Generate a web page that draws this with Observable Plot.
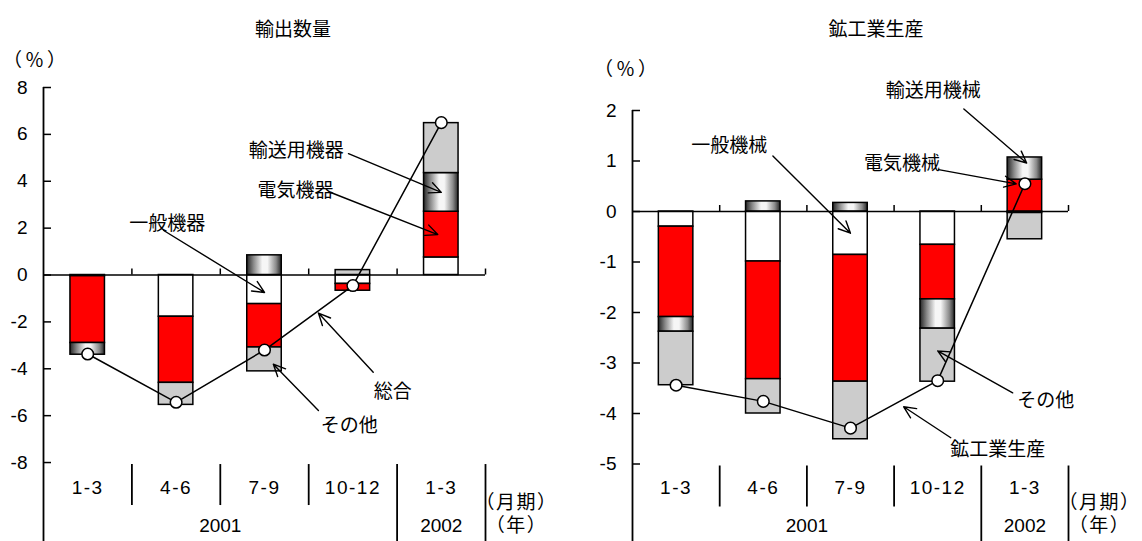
<!DOCTYPE html>
<html>
<head>
<meta charset="utf-8">
<script src="https://cdn.jsdelivr.net/npm/d3@7"></script>
<script src="https://cdn.jsdelivr.net/npm/@observablehq/plot@0.6"></script>
<style>
  html, body { margin: 0; padding: 0; background: #fff; }
  #page { position: relative; width: 1142px; height: 541px; overflow: hidden;
          font-family: "Liberation Sans", "Noto Sans CJK JP", sans-serif; color: #000; }
  .lbl { position: absolute; font-size: 19px; white-space: nowrap; transform: translate(-50%, -50%);
         font-family: "Liberation Sans", "Noto Sans CJK JP", sans-serif; }
  .unit { letter-spacing: 3px; }
  .chart { position: absolute; }
</style>
</head>
<body>
<div id="page"></div>
<script>
// Quarters (month periods) and the years they belong to
const periods = ["1-3", "4-6", "7-9", "10-12", "1-3"];
const years = [{label: "2001", from: 0, to: 4}, {label: "2002", from: 4, to: 5}];

// 輸出数量: contribution to % change by product group
const exportSeries = ["一般機器", "電気機器", "輸送用機器", "その他"];
const exportGeneral   = [-0.05, -1.78, -1.24, -0.38, 0.75];
const exportElectric  = [-2.85, -2.82, -1.85, -0.29, 1.95];
const exportTransport = [-0.50,  0.00,  0.84,  0.00, 1.65];
const exportOther     = [ 0.00, -0.94, -1.02,  0.21, 2.13];
const exportTotal     = [-3.37, -5.43, -3.20, -0.45, 6.50];
const exportTicks = [8, 6, 4, 2, 0, -2, -4, -6, -8];

// 鉱工業生産: contribution to % change by industry
const prodSeries = ["一般機械", "電気機械", "輸送用機械", "その他"];
const prodGeneral   = [-0.30, -0.99, -0.86, -0.66, -0.03];
const prodElectric  = [-1.79, -2.33, -2.51, -1.08,  0.63];
const prodTransport = [-0.29,  0.20,  0.17, -0.58,  0.44];
const prodOther     = [-1.06, -0.68, -1.14, -1.05, -0.52];
const prodTotal     = [-3.44, -3.76, -4.29, -3.35,  0.55];
const prodTicks = [2, 1, 0, -1, -2, -3, -4, -5];

const FONT = '"Liberation Sans", "Noto Sans CJK JP", sans-serif';
const page = document.getElementById("page");

function label(text, x, y, cls) {
  const d = document.createElement("div");
  d.className = "lbl" + (cls ? " " + cls : "");
  d.textContent = text;
  d.style.left = x + "px";
  d.style.top = y + "px";
  page.appendChild(d);
}

function drawChart(cfg) {
  const {values, series, total, ticks, unitPx, left, top, width, height,
         marginTop, marginLeft, marginRight, gradId, notes} = cfg;
  const n = periods.length;
  const yTop = d3.max(ticks), yBot = d3.min(ticks);
  const yMin = yTop - (height - marginTop) / unitPx;       // frame runs to the bottom of the svg
  const below = px => yBot - px / unitPx;                  // value a few px under the lowest tick
  const bandPx = (width - marginLeft - marginRight) / n;
  const inset = (bandPx - 34.5) / 2;

  const rows = [];
  periods.forEach((p, i) => series.forEach((s, k) => {
    if (values[k][i] !== 0) rows.push({i, series: s, value: values[k][i]});
  }));

  // point at fraction t through series k's stacked segment in period i
  function seg(k, i, t) {
    let pos = 0, neg = 0, lo = 0, hi = 0;
    for (let j = 0; j <= k; j++) {
      const v = values[j][i];
      if (v >= 0) { lo = pos; pos += v; hi = pos; } else { lo = neg; neg += v; hi = neg; }
    }
    return lo + (hi - lo) * t;
  }
  // point at fraction t along the total line between period i and i+1
  const along = (i, t) => total[i] + (total[i + 1] - total[i]) * t;
  const ann = notes(seg, along);

  const fills = ["#ffffff", "#ff0000", `url(#${gradId})`, "#cccccc"];
  const txt = {fontSize: 19, fill: "#000"};

  const svg = Plot.plot({
    width, height, marginTop, marginBottom: 0, marginLeft, marginRight,
    x: {domain: [0, n], axis: null},
    y: {domain: [yMin, yTop], axis: null},
    color: {type: "ordinal", domain: series, range: fills},
    style: {fontFamily: FONT, fontSize: "19px", background: "transparent", overflow: "visible"},
    marks: [
      // stacked contributions
      Plot.rectY(rows, {x1: d => d.i, x2: d => d.i + 1, y: "value", fill: "series",
                        stroke: "#000", strokeWidth: 1.5, insetLeft: inset, insetRight: inset}),
      // axes
      Plot.ruleY([0], {stroke: "#000", strokeWidth: 1.5}),
      Plot.ruleX([0], {stroke: "#000", strokeWidth: 1.8}),
      Plot.ruleY(ticks, {x1: 0, x2: 8 / bandPx, stroke: "#000", strokeWidth: 1.5}),
      Plot.text(ticks, {x: 0, y: d => d, text: d => String(d), textAnchor: "end", dx: -16, ...txt}),
      Plot.ruleX(d3.range(1, n + 1), {y1: 0, y2: 6 / unitPx, stroke: "#000", strokeWidth: 1.5}),
      // period / year table under the plot
      Plot.ruleX([1, 2, 3], {y1: below(2), y2: below(43), stroke: "#000", strokeWidth: 1.8}),
      Plot.ruleX([4, 5], {y1: below(2), y2: yMin, stroke: "#000", strokeWidth: 1.8}),
      Plot.text(periods, {x: (d, i) => i + 0.5, text: d => d, frameAnchor: "bottom", dy: -48, ...txt}),
      Plot.text(years, {x: d => (d.from + d.to) / 2, text: "label", frameAnchor: "bottom", dy: -10, ...txt}),
      Plot.text(["（月期）"], {x: () => n, text: d => d, frameAnchor: "bottom", dy: -33, dx: 31, ...txt}),
      Plot.text(["（年）"], {x: () => n, text: d => d, frameAnchor: "bottom", dy: -10, dx: 31, ...txt}),
      // total
      Plot.line(total, {x: (d, i) => i + 0.5, y: d => d, stroke: "#000", strokeWidth: 1.5}),
      Plot.dot(total, {x: (d, i) => i + 0.5, y: d => d, r: 5.8, fill: "#fff", stroke: "#000", strokeWidth: 1.5}),
      // callouts
      Plot.arrow(ann, {x1: "x1", y1: "y1", x2: "x2", y2: "y2", stroke: "#000", strokeWidth: 1.4,
                       headLength: 14, headAngle: 50}),
      Plot.text(ann, {x: "tx", y: "ty", text: "text", ...txt})
    ]
  });

  // cylinder-style shading for the transport segment
  const grad = d3.select(svg).insert("defs", ":first-child")
    .append("linearGradient").attr("id", gradId)
    .attr("x1", "0%").attr("x2", "100%").attr("y1", "0%").attr("y2", "0%");
  [[0, "#262626"], [0.2, "#8a8a8a"], [0.45, "#f6f6f6"], [0.6, "#f6f6f6"], [0.85, "#8a8a8a"], [1, "#262626"]]
    .forEach(([o, c]) => grad.append("stop").attr("offset", o).attr("stop-color", c));

  // looser spacing for the period labels and the bracketed units
  d3.select(svg).selectAll("text").each(function () {
    const s = this.textContent;
    if (periods.includes(s)) this.setAttribute("letter-spacing", "1.5");
    else if (s.startsWith("（")) this.setAttribute("letter-spacing", "1.5");
  });

  const wrap = document.createElement("div");
  wrap.className = "chart";
  wrap.style.left = left + "px";
  wrap.style.top = top + "px";
  wrap.appendChild(svg);
  page.appendChild(wrap);
}

drawChart({
  values: [exportGeneral, exportElectric, exportTransport, exportOther],
  series: exportSeries, total: exportTotal, ticks: exportTicks,
  unitPx: 23.44, left: 0, top: 70, width: 571, height: 471,
  marginTop: 17, marginLeft: 43, marginRight: 86, gradId: "shade-export",
  notes: (seg, along) => [
    {text: "一般機器",   tx: 1.40, ty: 2.20,  x1: 1.36, y1: 1.90,  x2: 2.50, y2: seg(0, 2, 0.6)},
    {text: "輸送用機器", tx: 2.86, ty: 5.31,  x1: 3.45, y1: 5.18,  x2: 4.50, y2: seg(2, 4, 0.5)},
    {text: "電気機器",   tx: 2.85, ty: 3.58,  x1: 3.25, y1: 3.52,  x2: 4.46, y2: seg(1, 4, 0.5)},
    {text: "総合",       tx: 3.95, ty: -5.00, x1: 3.73, y1: -4.15, x2: 3.11, y2: along(2, 0.61) - 0.1},
    {text: "その他",     tx: 3.46, ty: -6.42, x1: 3.11, y1: -5.78, x2: 2.60, y2: seg(3, 2, 0.7)}
  ]
});

drawChart({
  values: [prodGeneral, prodElectric, prodTransport, prodOther],
  series: prodSeries, total: prodTotal, ticks: prodTicks,
  unitPx: 50.5, left: 571, top: 80, width: 571, height: 461,
  marginTop: 30, marginLeft: 61, marginRight: 74, gradId: "shade-prod",
  notes: (seg, along) => [
    {text: "一般機械",   tx: 1.11, ty: 1.30,  x1: 1.61, y1: 1.10,  x2: 2.50, y2: seg(0, 2, 0.5)},
    {text: "輸送用機械", tx: 3.45, ty: 2.38,  x1: 3.80, y1: 2.03,  x2: 4.52, y2: seg(2, 4, 0.75)},
    {text: "電気機械",   tx: 3.09, ty: 0.94,  x1: 3.51, y1: 0.83,  x2: 4.40, y2: seg(1, 4, 0.87)},
    {text: "その他",     tx: 4.74, ty: -3.75, x1: 4.36, y1: -3.59, x2: 3.50, y2: seg(3, 3, 0.42)},
    {text: "鉱工業生産", tx: 4.19, ty: -4.72, x1: 3.65, y1: -4.48, x2: 3.11, y2: along(2, 0.61) - 0.15}
  ]
});

// chart titles and unit labels
label("輸出数量", 293, 27);
label("（％）", 36, 58, "unit");
label("鉱工業生産", 876, 27);
label("（％）", 627, 67, "unit");
</script>
</body>
</html>
